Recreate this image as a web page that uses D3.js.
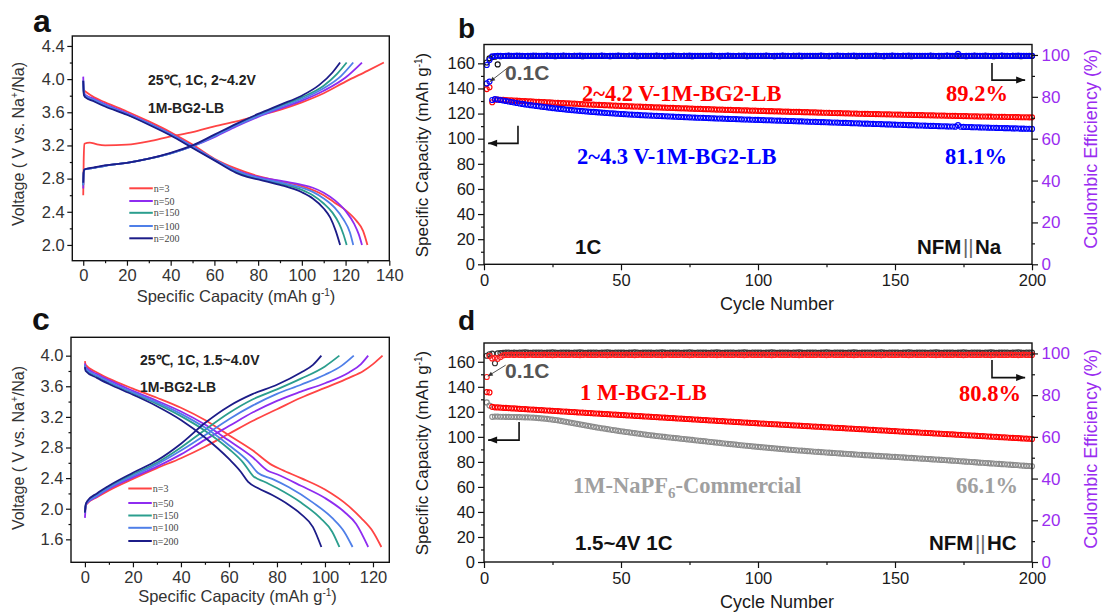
<!DOCTYPE html>
<html><head><meta charset="utf-8">
<script src="https://cdn.jsdelivr.net/npm/d3@7"></script>
<style>body{margin:0;background:#fff}svg{display:block;font-family:"Liberation Sans",Arial,sans-serif}</style>
</head><body><svg id="chart" width="1105" height="612"></svg>
<script>
// ---------------- DATA ----------------
const seriesNames = ["n=3","n=50","n=150","n=100","n=200"];
// Panel a: 2~4.2V, [capacity, voltage]
const aCharge_n3   = [[0,2.6],[0.2,3.0],[0.5,3.22],[3,3.235],[6,3.215],[10,3.2],[20,3.21],[30,3.25],[40,3.31],[50,3.36],[60,3.43],[70,3.49],[80,3.56],[90,3.63],[100,3.72],[110,3.83],[120,3.97],[130,4.1],[137.5,4.2]];
const aCharge_n50  = [[0,2.68],[0.2,2.86],[0.5,2.91],[5,2.93],[10,2.955],[20,2.99],[30,3.04],[40,3.105],[50,3.19],[60,3.3],[70,3.43],[80,3.545],[90,3.645],[100,3.74],[110,3.86],[120,4.02],[127.5,4.2]];
const aCharge_n150 = [[0,2.72],[0.2,2.87],[0.5,2.91],[5,2.93],[10,2.955],[20,2.99],[30,3.04],[40,3.105],[50,3.195],[60,3.32],[70,3.45],[80,3.565],[90,3.675],[100,3.78],[110,3.92],[116,4.06],[120.5,4.2]];
const aCharge_n100 = [[0,2.72],[0.2,2.87],[0.5,2.91],[5,2.93],[10,2.955],[20,2.99],[30,3.04],[40,3.105],[50,3.19],[60,3.31],[70,3.44],[80,3.555],[90,3.66],[100,3.76],[110,3.89],[118,4.04],[123.5,4.2]];
const aCharge_n200 = [[0,2.75],[0.2,2.88],[0.5,2.91],[5,2.935],[10,2.96],[20,2.99],[30,3.04],[40,3.11],[50,3.2],[60,3.33],[70,3.46],[80,3.58],[90,3.69],[100,3.8],[108,3.93],[114,4.08],[117.5,4.2]];
const aDischarge_n3   = [[0,3.87],[0.5,3.86],[5,3.78],[10,3.72],[20,3.61],[30,3.49],[40,3.36],[50,3.21],[60,3.04],[70,2.92],[80,2.83],[90,2.77],[100,2.71],[110,2.6],[115,2.51],[120,2.42],[125,2.29],[128,2.17],[130,2.0]];
const aDischarge_n50  = [[0,4.03],[0.3,3.84],[1,3.81],[5,3.76],[10,3.7],[20,3.59],[30,3.47],[40,3.34],[50,3.19],[60,3.03],[70,2.9],[80,2.82],[90,2.775],[100,2.725],[105,2.69],[110,2.63],[115,2.54],[120,2.41],[124,2.25],[126,2.13],[127.5,2.0]];
const aDischarge_n150 = [[0,3.98],[0.3,3.82],[1,3.79],[5,3.74],[10,3.68],[20,3.575],[30,3.46],[40,3.33],[50,3.18],[60,3.025],[70,2.885],[75,2.835],[80,2.8],[90,2.74],[100,2.665],[105,2.6],[110,2.5],[114,2.39],[117,2.26],[119,2.13],[120.5,2.0]];
const aDischarge_n100 = [[0,3.98],[0.3,3.83],[1,3.8],[5,3.75],[10,3.69],[20,3.58],[30,3.465],[40,3.335],[50,3.185],[60,3.03],[70,2.895],[80,2.81],[90,2.755],[100,2.69],[105,2.64],[110,2.56],[115,2.45],[119,2.31],[122,2.15],[123.5,2.0]];
const aDischarge_n200 = [[0,3.98],[0.3,3.81],[1,3.78],[5,3.73],[10,3.67],[20,3.57],[30,3.45],[40,3.32],[50,3.17],[60,3.02],[70,2.87],[75,2.82],[80,2.79],[90,2.725],[100,2.635],[105,2.56],[110,2.44],[113,2.33],[115.5,2.17],[117.5,2.0]];
// Panel c: 1.5~4.0V
const cCharge_n3   = [[0,1.95],[0.3,2.03],[1,2.07],[5,2.15],[10,2.24],[20,2.39],[30,2.53],[40,2.66],[50,2.81],[60,2.98],[70,3.15],[80,3.3],[90,3.45],[100,3.58],[110,3.71],[116,3.8],[120,3.89],[124,4.0]];
const cCharge_n50  = [[0,1.88],[0.5,2.06],[5,2.16],[10,2.26],[20,2.41],[30,2.55],[40,2.71],[50,2.9],[60,3.08],[70,3.26],[80,3.41],[90,3.53],[100,3.64],[110,3.78],[115,3.89],[118,4.0]];
const cCharge_n150 = [[0,1.95],[0.5,2.07],[5,2.18],[10,2.28],[20,2.45],[30,2.6],[40,2.8],[50,3.03],[60,3.25],[70,3.43],[80,3.56],[90,3.7],[100,3.86],[106,4.0]];
const cCharge_n100 = [[0,1.95],[0.5,2.07],[5,2.17],[10,2.27],[20,2.43],[30,2.58],[40,2.76],[50,2.96],[60,3.17],[70,3.35],[80,3.5],[90,3.62],[100,3.75],[107,3.87],[112,4.0]];
const cCharge_n200 = [[0,1.95],[0.3,2.05],[1,2.1],[5,2.2],[10,2.3],[20,2.47],[30,2.63],[40,2.85],[50,3.12],[60,3.34],[70,3.5],[80,3.62],[90,3.78],[95,3.88],[98.5,4.0]];
const cDischarge_n3   = [[0,3.93],[0.3,3.88],[5,3.78],[10,3.7],[20,3.57],[30,3.45],[40,3.32],[50,3.16],[60,2.96],[70,2.76],[78,2.57],[82,2.51],[90,2.4],[100,2.25],[110,2.03],[115,1.88],[120,1.7],[123.5,1.5]];
const cDischarge_n50  = [[0,3.9],[0.3,3.85],[5,3.76],[10,3.68],[20,3.54],[30,3.41],[40,3.27],[50,3.1],[60,2.89],[70,2.67],[76,2.5],[80,2.45],[90,2.3],[100,2.14],[108,1.96],[113,1.8],[118,1.5]];
const cDischarge_n150 = [[0,3.87],[0.3,3.82],[5,3.73],[10,3.65],[20,3.51],[30,3.37],[40,3.21],[50,3.02],[60,2.78],[66,2.6],[70,2.43],[75,2.35],[80,2.27],[90,2.08],[98,1.88],[103,1.7],[106,1.5]];
const cDischarge_n100 = [[0,3.88],[0.3,3.83],[5,3.74],[10,3.66],[20,3.52],[30,3.39],[40,3.24],[50,3.06],[60,2.83],[68,2.62],[72,2.47],[78,2.39],[85,2.28],[95,2.08],[103,1.88],[108,1.7],[111.5,1.5]];
const cDischarge_n200 = [[0,3.85],[0.3,3.8],[5,3.71],[10,3.63],[20,3.49],[30,3.34],[40,3.16],[50,2.93],[60,2.65],[65,2.48],[68,2.35],[72,2.27],[78,2.18],[85,2.05],[90,1.93],[95,1.76],[98.5,1.5]];

// Panels b and d: cycle 1..200
const capB_42V = [
139.5,141.0,129.0,131.2,131.1,131.0,130.9,130.7,130.6,130.5,
130.4,130.3,130.1,130.0,129.9,129.8,129.7,129.5,129.4,129.3,
129.2,129.1,129.0,128.9,128.7,128.6,128.5,128.4,128.3,128.2,
128.1,128.0,127.9,127.8,127.6,127.5,127.4,127.3,127.2,127.1,
127.0,126.9,126.8,126.7,126.6,126.5,126.4,126.3,126.2,126.1,
126.0,125.9,125.8,125.7,125.6,125.6,125.5,125.4,125.3,125.2,
125.1,125.0,125.0,124.9,124.8,124.7,124.6,124.6,124.5,124.4,
124.3,124.2,124.2,124.1,124.0,123.9,123.8,123.8,123.7,123.6,
123.5,123.5,123.4,123.3,123.2,123.2,123.1,123.0,123.0,122.9,
122.8,122.7,122.7,122.6,122.5,122.5,122.4,122.3,122.3,122.2,
122.1,122.1,122.0,121.9,121.9,121.8,121.8,121.7,121.6,121.6,
121.5,121.4,121.4,121.3,121.3,121.2,121.1,121.1,121.0,121.0,
120.9,120.8,120.8,120.7,120.7,120.6,120.5,120.5,120.4,120.4,
120.3,120.2,120.2,120.1,120.1,120.0,119.9,119.9,119.8,119.8,
119.7,119.7,119.6,119.6,119.5,119.5,119.4,119.4,119.3,119.3,
119.2,119.2,119.1,119.1,119.0,119.0,118.9,118.9,118.8,118.8,
118.7,118.7,118.6,118.6,118.5,118.5,118.4,118.4,118.3,118.3,
118.2,118.2,118.1,118.1,118.0,118.0,117.9,117.9,117.8,117.8,
117.7,117.7,117.7,117.6,117.6,117.5,117.5,117.5,117.4,117.4,
117.3,117.3,117.3,117.2,117.2,117.1,117.1,117.1,117.0,117.0];
const capB_43V = [
144.0,145.5,130.8,131.5,131.2,130.8,130.4,130.0,129.6,129.2,
128.8,128.4,128.0,127.7,127.3,127.0,126.7,126.4,126.1,125.8,
125.5,125.2,125.0,124.7,124.4,124.2,123.9,123.7,123.5,123.2,
123.0,122.8,122.6,122.4,122.2,122.0,121.8,121.6,121.4,121.3,
121.1,120.9,120.8,120.6,120.5,120.3,120.2,120.0,119.9,119.7,
119.6,119.5,119.3,119.2,119.1,119.0,118.8,118.7,118.6,118.5,
118.4,118.3,118.2,118.1,118.0,117.9,117.8,117.7,117.6,117.5,
117.4,117.3,117.2,117.1,117.0,116.9,116.8,116.7,116.7,116.6,
116.5,116.4,116.3,116.2,116.1,116.1,116.0,115.9,115.8,115.7,
115.7,115.6,115.5,115.4,115.3,115.3,115.2,115.1,115.0,115.0,
114.9,114.8,114.7,114.7,114.6,114.5,114.4,114.4,114.3,114.2,
114.1,114.1,114.0,113.9,113.8,113.8,113.7,113.6,113.5,113.5,
113.4,113.3,113.2,113.2,113.1,113.0,112.9,112.9,112.8,112.7,
112.6,112.6,112.5,112.4,112.3,112.3,112.2,112.1,112.0,112.0,
111.9,111.8,111.7,111.7,111.6,111.5,111.4,111.4,111.3,111.2,
111.1,111.1,111.0,110.9,110.8,110.8,110.7,110.6,110.5,110.5,
110.4,110.3,110.2,110.2,110.1,110.0,109.9,109.9,109.8,109.7,
109.7,109.6,110.8,109.5,109.4,109.3,109.3,109.2,109.1,109.1,
109.0,108.9,108.9,108.8,108.7,108.7,108.6,108.5,108.5,108.4,
108.4,108.3,108.2,108.2,108.1,108.0,108.0,107.9,107.9,107.8];
const ceB_43V = [
95.2,97.6,99.3,99.5,99.6,99.6,99.5,99.6,99.7,99.6,
99.6,99.7,99.6,99.6,99.5,99.6,99.6,99.7,99.6,99.6,
99.6,99.6,99.7,99.6,99.5,99.6,99.6,99.6,99.7,99.6,
99.6,99.5,99.6,99.6,99.7,99.6,99.6,99.6,99.5,99.6,
99.6,99.6,99.7,99.6,99.5,99.6,99.6,99.6,99.7,99.6,
99.6,99.5,99.6,99.6,99.7,99.6,99.6,99.6,99.5,99.6,
99.6,99.6,99.7,99.6,99.5,99.6,99.6,99.6,99.7,99.6,
99.6,99.5,99.6,99.6,99.7,99.6,99.6,99.6,99.5,99.6,
99.6,99.6,99.7,99.6,99.5,99.6,99.6,99.6,99.7,99.6,
99.6,99.5,99.6,99.6,99.7,99.6,99.6,99.6,99.5,99.6,
99.6,99.6,99.7,99.6,99.5,99.6,99.6,99.6,99.7,99.6,
99.6,99.5,99.6,99.6,99.7,99.6,99.6,99.6,99.5,99.6,
99.6,99.6,99.7,99.6,99.5,99.6,99.6,99.6,99.7,99.6,
99.6,99.5,99.6,99.6,99.7,99.6,99.6,99.6,99.5,99.6,
99.6,99.6,99.7,99.6,99.5,99.6,99.6,99.6,99.7,99.6,
99.6,99.5,99.6,99.6,99.7,99.6,99.6,99.6,99.5,99.6,
99.6,99.6,99.7,99.6,99.5,99.6,99.6,99.6,99.7,99.6,
99.6,99.6,100.5,99.6,99.5,99.6,99.6,99.6,99.7,99.6,
99.6,99.6,99.7,99.6,99.5,99.6,99.6,99.6,99.7,99.6,
99.6,99.5,99.6,99.6,99.7,99.6,99.6,99.6,99.5,99.6];
const ceB_42V = [
96.4,98.4,99.0,99.2,95.5,99.4,99.5,99.5,99.6,99.5,
99.5,99.5,99.6,99.5,99.5,99.4,99.5,99.5,99.6,99.5,
99.5,99.5,99.6,99.5,99.5,99.4,99.5,99.5,99.6,99.5,
99.5,99.5,99.6,99.5,99.5,99.4,99.5,99.5,99.6,99.5,
99.5,99.5,99.6,99.5,99.5,99.4,99.5,99.5,99.6,99.5,
99.5,99.5,99.6,99.5,99.5,99.4,99.5,99.5,99.6,99.5,
99.5,99.5,99.6,99.5,99.5,99.4,99.5,99.5,99.6,99.5,
99.5,99.5,99.6,99.5,99.5,99.4,99.5,99.5,99.6,99.5,
99.5,99.5,99.6,99.5,99.5,99.4,99.5,99.5,99.6,99.5,
99.5,99.5,99.6,99.5,99.5,99.4,99.5,99.5,99.6,99.5,
99.5,99.5,99.6,99.5,99.5,99.4,99.5,99.5,99.6,99.5,
99.5,99.5,99.6,99.5,99.5,99.4,99.5,99.5,99.6,99.5,
99.5,99.5,99.6,99.5,99.5,99.4,99.5,99.5,99.6,99.5,
99.5,99.5,99.6,99.5,99.5,99.4,99.5,99.5,99.6,99.5,
99.5,99.5,99.6,99.5,99.5,99.4,99.5,99.5,99.6,99.5,
99.5,99.5,99.6,99.5,99.5,99.4,99.5,99.5,99.6,99.5,
99.5,99.5,99.6,99.5,99.5,99.4,99.5,99.5,99.6,99.5,
99.5,99.5,99.6,99.5,99.5,99.4,99.5,99.5,99.6,99.5,
99.5,99.5,99.6,99.5,99.5,99.4,99.5,99.5,99.6,99.5,
99.5,99.5,99.6,99.5,99.5,99.4,99.5,99.5,99.6,99.5];
const capD_BG2 = [
135.8,135.5,124.0,123.6,123.5,123.4,123.2,123.1,123.0,122.8,
122.7,122.6,122.4,122.3,122.2,122.0,121.9,121.8,121.6,121.5,
121.4,121.2,121.1,121.0,120.8,120.7,120.6,120.4,120.3,120.2,
120.0,119.9,119.8,119.6,119.5,119.4,119.2,119.1,119.0,118.8,
118.7,118.6,118.4,118.3,118.2,118.0,117.9,117.8,117.6,117.5,
117.4,117.2,117.1,117.0,116.8,116.7,116.6,116.4,116.3,116.2,
116.0,115.9,115.8,115.6,115.5,115.4,115.2,115.1,115.0,114.8,
114.7,114.6,114.4,114.3,114.2,114.0,113.9,113.8,113.6,113.5,
113.4,113.2,113.1,113.0,112.8,112.7,112.6,112.4,112.3,112.2,
112.0,111.9,111.8,111.6,111.5,111.4,111.2,111.1,111.0,110.8,
110.7,110.6,110.5,110.3,110.2,110.1,110.0,109.8,109.7,109.6,
109.5,109.3,109.2,109.1,109.0,108.8,108.7,108.6,108.5,108.3,
108.2,108.1,108.0,107.8,107.7,107.6,107.5,107.3,107.2,107.1,
107.0,106.8,106.7,106.6,106.5,106.3,106.2,106.1,106.0,105.8,
105.7,105.6,105.5,105.3,105.2,105.1,105.0,104.8,104.7,104.6,
104.5,104.3,104.2,104.1,104.0,103.8,103.7,103.6,103.5,103.3,
103.2,103.1,103.0,102.8,102.7,102.6,102.5,102.3,102.2,102.1,
102.0,101.8,101.7,101.6,101.5,101.3,101.2,101.1,101.0,100.8,
100.7,100.6,100.5,100.3,100.2,100.1,100.0,99.8,99.7,99.6,
99.5,99.3,99.2,99.1,99.0,98.8,98.7,98.6,98.5,98.3];
const capD_NaPF6 = [
127.5,125.0,116.0,116.2,116.2,116.1,116.1,116.0,116.0,115.9,
115.9,115.8,115.8,115.7,115.6,115.6,115.5,115.4,115.2,115.0,
114.8,114.6,114.4,114.1,113.8,113.5,113.2,112.8,112.4,112.0,
111.6,111.2,110.8,110.4,110.0,109.6,109.2,108.8,108.4,108.0,
107.6,107.3,106.9,106.6,106.2,105.9,105.5,105.2,104.8,104.5,
104.2,103.9,103.6,103.3,103.0,102.7,102.4,102.1,101.8,101.5,
101.2,101.0,100.7,100.5,100.2,100.0,99.7,99.5,99.2,99.0,
98.8,98.5,98.3,98.0,97.8,97.6,97.3,97.1,96.8,96.6,
96.4,96.1,95.9,95.6,95.4,95.2,94.9,94.7,94.4,94.2,
94.0,93.8,93.5,93.3,93.1,92.9,92.7,92.4,92.2,92.0,
91.8,91.6,91.4,91.2,91.0,90.8,90.6,90.4,90.2,90.0,
89.8,89.7,89.5,89.3,89.1,89.0,88.8,88.6,88.5,88.3,
88.1,88.0,87.8,87.7,87.5,87.4,87.2,87.1,86.9,86.8,
86.6,86.5,86.3,86.2,86.0,85.9,85.7,85.6,85.4,85.3,
85.2,85.0,84.9,84.8,84.6,84.5,84.4,84.2,84.1,84.0,
83.9,83.7,83.6,83.4,83.3,83.2,83.0,82.9,82.7,82.6,
82.5,82.3,82.2,82.0,81.9,81.8,81.6,81.5,81.3,81.2,
81.0,80.9,80.7,80.5,80.4,80.2,80.1,79.9,79.8,79.6,
79.4,79.3,79.1,79.0,78.8,78.7,78.5,78.4,78.2,78.1,
77.9,77.8,77.6,77.5,77.3,77.1,77.0,76.8,76.7,76.5];
const ceD_NaPF6 = [
98.9,99.6,99.9,95.3,100.0,100.2,100.3,100.4,100.4,100.3,
100.4,100.3,100.4,100.4,100.5,100.4,100.3,100.4,100.4,100.4,
100.4,100.3,100.4,100.4,100.5,100.4,100.3,100.4,100.4,100.4,
100.4,100.3,100.4,100.4,100.5,100.4,100.3,100.4,100.4,100.4,
100.4,100.3,100.4,100.4,100.5,100.4,100.3,100.4,100.4,100.4,
100.4,100.3,100.4,100.4,100.5,100.4,100.3,100.4,100.4,100.4,
100.4,100.3,100.4,100.4,100.5,100.4,100.3,100.4,100.4,100.4,
100.4,100.3,100.4,100.4,100.5,100.4,100.3,100.4,100.4,100.4,
100.4,100.3,100.4,100.4,100.5,100.4,100.3,100.4,100.4,100.4,
100.4,100.3,100.4,100.4,100.5,100.4,100.3,100.4,100.4,100.4,
100.4,100.3,100.4,100.4,100.5,100.4,100.3,100.4,100.4,100.4,
100.4,100.3,100.4,100.4,100.5,100.4,100.3,100.4,100.4,100.4,
100.4,100.3,100.4,100.4,100.5,100.4,100.3,100.4,100.4,100.4,
100.4,100.3,100.4,100.4,100.5,100.4,100.3,100.4,100.4,100.4,
100.4,100.3,100.4,100.4,100.5,100.4,100.3,100.4,100.4,100.4,
100.4,100.3,100.4,100.4,100.5,100.4,100.3,100.4,100.4,100.4,
100.4,100.3,100.4,100.4,100.5,100.4,100.3,100.4,100.4,100.4,
100.4,100.3,100.4,100.4,100.5,100.4,100.3,100.4,100.4,100.4,
100.4,100.3,100.4,100.4,100.5,100.4,100.3,100.4,100.4,100.4,
100.4,100.3,100.4,100.4,100.5,100.4,100.3,100.4,100.4,100.4];
const ceD_BG2 = [
88.7,98.8,97.6,97.9,97.4,98.3,99.1,99.3,99.3,99.4,
99.3,99.4,99.3,99.3,99.2,99.3,99.4,99.3,99.3,99.3,
99.3,99.4,99.3,99.3,99.2,99.3,99.4,99.3,99.3,99.3,
99.3,99.4,99.3,99.3,99.2,99.3,99.4,99.3,99.3,99.3,
99.3,99.4,99.3,99.3,99.2,99.3,99.4,99.3,99.3,99.3,
99.3,99.4,99.3,99.3,99.2,99.3,99.4,99.3,99.3,99.3,
99.3,99.4,99.3,99.3,99.2,99.3,99.4,99.3,99.3,99.3,
99.3,99.4,99.3,99.3,99.2,99.3,99.4,99.3,99.3,99.3,
99.3,99.4,99.3,99.3,99.2,99.3,99.4,99.3,99.3,99.3,
99.3,99.4,99.3,99.3,99.2,99.3,99.4,99.3,99.3,99.3,
99.3,99.4,99.3,99.3,99.2,99.3,99.4,99.3,99.3,99.3,
99.3,99.4,99.3,99.3,99.2,99.3,99.4,99.3,99.3,99.3,
99.3,99.4,99.3,99.3,99.2,99.3,99.4,99.3,99.3,99.3,
99.3,99.4,99.3,99.3,99.2,99.3,99.4,99.3,99.3,99.3,
99.3,99.4,99.3,99.3,99.2,99.3,99.4,99.3,99.3,99.3,
99.3,99.4,99.3,99.3,99.2,99.3,99.4,99.3,99.3,99.3,
99.3,99.4,99.3,99.3,99.2,99.3,99.4,99.3,99.3,99.3,
99.3,99.4,99.3,99.3,99.2,99.3,99.4,99.3,99.3,99.3,
99.3,99.4,99.3,99.3,99.2,99.3,99.4,99.3,99.3,99.3,
99.3,99.4,99.3,99.3,99.2,99.3,99.4,99.3,99.3,99.3];

// tick labels
const aYTicks = [2.0,2.4,2.8,3.2,3.6,4.0,4.4];
const aXTicks = [0,20,40,60,80,100,120,140];
const cYTicks = [1.6,2.0,2.4,2.8,3.2,3.6,4.0];
const cXTicks = [0,20,40,60,80,100,120];
const capTicks = [0,20,40,60,80,100,120,140,160];
const ceTicks = [0,20,40,60,80,100];
const cycleTicks = [0,50,100,150,200];

// ---------------- DRAWING ----------------
const svg = d3.select("#chart");
const SANS = "Liberation Sans, Arial, sans-serif";
const SERIF = "Liberation Serif, Times New Roman, serif";
const colors = {"n=3":"#ff4444","n=50":"#8e2cf0","n=150":"#2b9e8e","n=100":"#4f7fe8","n=200":"#1c1c88"};

function styleAxis(g, fs, col) {
  g.attr("font-family", SANS);
  g.select(".domain").remove();
  g.selectAll("line").attr("stroke", "#111").attr("stroke-width", 1.2);
  g.selectAll("text").attr("font-size", fs).attr("fill", col);
}
function frame(x, y) {
  const [x0, x1] = x.range(), [y1, y0] = y.range();
  svg.append("rect").attr("x", x0).attr("y", y0).attr("width", x1 - x0).attr("height", y1 - y0)
    .attr("fill", "none").attr("stroke", "#111").attr("stroke-width", 1.4);
}
function minorVals(major) {
  const out = [];
  for (let i = 0; i < major.length - 1; i++) out.push((major[i] + major[i + 1]) / 2);
  return out;
}
function leftAxis(x, y, ticks, fmt, size, pad, fs, col) {
  const x0 = x.range()[0];
  styleAxis(svg.append("g").attr("transform", `translate(${x0},0)`)
    .call(d3.axisLeft(y).tickValues(ticks).tickFormat(fmt).tickSize(size).tickPadding(pad)), fs, col);
  styleAxis(svg.append("g").attr("transform", `translate(${x0},0)`)
    .call(d3.axisLeft(y).tickValues(minorVals(ticks)).tickFormat("").tickSize(size / 2)), fs, col);
}
function rightAxis(x, y, ticks, size, pad, fs, col) {
  const x1 = x.range()[1];
  styleAxis(svg.append("g").attr("transform", `translate(${x1},0)`)
    .call(d3.axisRight(y).tickValues(ticks).tickFormat(d3.format("d")).tickSize(size).tickPadding(pad)), fs, col);
  styleAxis(svg.append("g").attr("transform", `translate(${x1},0)`)
    .call(d3.axisRight(y).tickValues(minorVals(ticks)).tickFormat("").tickSize(size / 2)), fs, col);
}
function bottomAxis(x, y, ticks, size, pad, fs, col) {
  const y0 = y.range()[0];
  styleAxis(svg.append("g").attr("transform", `translate(0,${y0})`)
    .call(d3.axisBottom(x).tickValues(ticks).tickFormat(d3.format("d")).tickSize(size).tickPadding(pad)), fs, col);
  styleAxis(svg.append("g").attr("transform", `translate(0,${y0})`)
    .call(d3.axisBottom(x).tickValues(minorVals(ticks)).tickFormat("").tickSize(size / 2)), fs, col);
}
function text(x, y, str, o = {}) {
  return svg.append("text").attr("x", x).attr("y", y).text(str)
    .attr("font-family", o.family || SANS).attr("font-size", o.size || 16)
    .attr("font-weight", o.weight || "normal").attr("fill", o.fill || "#111")
    .attr("text-anchor", o.anchor || "start");
}
function vlabel(x, y, parts, size, fill) {
  const t = svg.append("text").attr("transform", `translate(${x},${y}) rotate(-90)`)
    .attr("text-anchor", "middle").attr("font-family", SANS).attr("font-size", size).attr("fill", fill);
  parts.forEach(p => { const s = t.append("tspan").text(p.t); if (p.dy) s.attr("dy", p.dy); if (p.fs) s.attr("font-size", p.fs); });
  return t;
}
function hlabel(x, y, parts, size, fill) {
  const t = svg.append("text").attr("x", x).attr("y", y)
    .attr("text-anchor", "middle").attr("font-family", SANS).attr("font-size", size).attr("fill", fill);
  parts.forEach(p => { const s = t.append("tspan").text(p.t); if (p.dy) s.attr("dy", p.dy); if (p.fs) s.attr("font-size", p.fs); });
  return t;
}
const capLabelParts = [{t:"Specific Capacity (mAh g"},{t:"-1",dy:-6,fs:10},{t:")",dy:6}];
const voltLabelParts = [{t:"Voltage ( V vs. Na"},{t:"+",dy:-6,fs:10},{t:"/Na)",dy:6}];

// ---- voltage-profile panels (a, c) ----
function profilePanel(x, y, yTicks, xTicks, charges, discharges, legendYs, legX) {
  const line = d3.line().x(d => x(d[0])).y(d => y(d[1])).curve(d3.curveMonotoneX);
  seriesNames.forEach((n, i) => {
    [charges[i], discharges[i]].forEach(arr => {
      svg.append("path").datum(arr).attr("d", line).attr("fill", "none")
        .attr("stroke", colors[n]).attr("stroke-width", 1.8).attr("stroke-linejoin", "round");
    });
  });
  frame(x, y);
  leftAxis(x, y, yTicks, d3.format(".1f"), 5, 2.5, 16.5, "#333");
  bottomAxis(x, y, xTicks, 5, 4, 16.5, "#333");
  seriesNames.forEach((n, i) => {
    svg.append("line").attr("x1", legX).attr("x2", legX + 23.5).attr("y1", legendYs[i]).attr("y2", legendYs[i])
      .attr("stroke", colors[n]).attr("stroke-width", 2);
    text(legX + 24.5, legendYs[i] + 3.5, n, {family: SERIF, size: 10, fill: "#444"});
  });
}

// Panel a
const xA = d3.scaleLinear([-5, 140], [72.3, 389.3]);
const yA = d3.scaleLinear([1.81, 4.52], [260.7, 36]);
profilePanel(xA, yA, aYTicks, aXTicks,
  [aCharge_n3, aCharge_n50, aCharge_n150, aCharge_n100, aCharge_n200],
  [aDischarge_n3, aDischarge_n50, aDischarge_n150, aDischarge_n100, aDischarge_n200],
  [188.3, 201, 212.8, 226, 238.3], 129.3);
text(33, 32, "a", {size: 32, weight: "bold"});
text(148, 85, "25℃, 1C, 2~4.2V", {size: 14, weight: "bold", fill: "#222"});
text(148, 113, "1M-BG2-LB", {size: 14, weight: "bold", fill: "#222"});
vlabel(24, 144, voltLabelParts, 16, "#333");
hlabel(236, 302, capLabelParts, 16.5, "#333");

// Panel c
const xC = d3.scaleLinear([-5.8, 126.8], [71, 389.3]);
const yC = d3.scaleLinear([1.3, 4.24], [562.3, 337.3]);
profilePanel(xC, yC, cYTicks, cXTicks,
  [cCharge_n3, cCharge_n50, cCharge_n150, cCharge_n100, cCharge_n200],
  [cDischarge_n3, cDischarge_n50, cDischarge_n150, cDischarge_n100, cDischarge_n200],
  [488.5, 503, 515.5, 527.8, 541], 128.3);
text(32, 330, "c", {size: 32, weight: "bold"});
text(140, 365, "25℃, 1C, 1.5~4.0V", {size: 14, weight: "bold", fill: "#222"});
text(140, 392, "1M-BG2-LB", {size: 14, weight: "bold", fill: "#222"});
vlabel(24, 448, voltLabelParts, 16, "#333");
hlabel(237.5, 602, capLabelParts, 16.5, "#333");

// ---- cycling panels (b, d) ----
const cycles = d3.range(1, 201);
function markers(x, y, vals, color, r) {
  svg.append("g").selectAll("circle").data(vals).join("circle")
    .attr("cx", (d, i) => x(cycles[i])).attr("cy", d => y(d)).attr("r", r || 2.5)
    .attr("fill", "none").attr("stroke", color).attr("stroke-width", 1.15);
}
function arrowPath(points, dir) {
  const p = d3.path();
  p.moveTo(points[0][0], points[0][1]);
  points.slice(1).forEach(q => p.lineTo(q[0], q[1]));
  svg.append("path").attr("d", p.toString()).attr("fill", "none").attr("stroke", "#111").attr("stroke-width", 1.6);
  const [tx, ty] = points[points.length - 1];
  const s = dir === "left" ? 1 : -1;
  svg.append("path").attr("d", `M${tx},${ty}L${tx + s * 9},${ty - 3.5}L${tx + s * 9},${ty + 3.5}Z`).attr("fill", "#111");
}
function leader(x1, y1, x2, y2) {
  svg.append("line").attr("x1", x1).attr("y1", y1).attr("x2", x2).attr("y2", y2).attr("stroke", "#555").attr("stroke-width", 1);
  const ang = Math.atan2(y2 - y1, x2 - x1);
  const L = 5, w = 2.2;
  const bx = x2 - L * Math.cos(ang), by = y2 - L * Math.sin(ang);
  svg.append("path").attr("d", `M${x2},${y2}L${bx - w * Math.sin(ang)},${by + w * Math.cos(ang)}L${bx + w * Math.sin(ang)},${by - w * Math.cos(ang)}Z`).attr("fill", "#333");
}
function cyclingAxes(x, y, yr) {
  frame(x, y);
  leftAxis(x, y, capTicks, d3.format("d"), 6, 3, 16.5, "#1a1a1a");
  rightAxis(x, yr, ceTicks, 6, 3.5, 17, "#9a2cf0");
  bottomAxis(x, y, cycleTicks, 6, 4, 16.5, "#1a1a1a");
}

// Panel b
const xB = d3.scaleLinear([0, 200], [484, 1032]);
const yB = d3.scaleLinear([0, 175], [264.3, 44.5]);
const yBr = d3.scaleLinear([0, 105], [264.3, 44.5]);
markers(xB, yBr, ceB_42V, "#111");
markers(xB, yBr, ceB_43V, "#0000ff");
markers(xB, yB, capB_42V, "#ff0000");
markers(xB, yB, capB_43V, "#0000ff");
cyclingAxes(xB, yB, yBr);
text(458, 38, "b", {size: 28, weight: "bold"});
text(505, 80, "0.1C", {size: 21, weight: "bold", fill: "#555"});
leader(xB(8.4), yB(156), xB(2.2), yB(145.5));
text(582, 101, "2~4.2 V-1M-BG2-LB", {family: SERIF, size: 22.5, weight: "bold", fill: "#ff0000"});
text(946, 101, "89.2%", {family: SERIF, size: 22.5, weight: "bold", fill: "#ff0000"});
text(577, 164, "2~4.3 V-1M-BG2-LB", {family: SERIF, size: 22.5, weight: "bold", fill: "#0000ff"});
text(945, 164, "81.1%", {family: SERIF, size: 22.5, weight: "bold", fill: "#0000ff"});
text(575, 254, "1C", {size: 20.5, weight: "bold"});
{
  const t = text(917, 254, "NFM", {size: 20.5, weight: "bold"});
  t.append("tspan").text("||").attr("font-weight", "normal").attr("fill", "#666").attr("dx", 1.5);
  t.append("tspan").text("Na").attr("dx", 1.5);
}
arrowPath([[xB(12.4), yB(110.3)], [xB(12.4), yB(96.3)], [xB(1.5), yB(96.3)]], "left");
arrowPath([[xB(185.4), yBr(96.2)], [xB(185.4), yBr(88.0)], [xB(197.5), yBr(88.0)]], "right");
vlabel(428, 155, capLabelParts, 17, "#1a1a1a");
vlabel(1097, 149, [{t:"Coulombic Efficiency (%)"}], 18, "#9a2cf0");
hlabel(777, 310, [{t:"Cycle Number"}], 18, "#1a1a1a");

// Panel d
const xD = d3.scaleLinear([0, 200], [484, 1032]);
const yD = d3.scaleLinear([0, 175], [562, 343]);
const yDr = d3.scaleLinear([0, 105], [562, 343]);
markers(xD, yDr, ceD_NaPF6, "#333");
markers(xD, yDr, ceD_BG2, "#ff2020");
markers(xD, yD, capD_NaPF6, "#8c8c8c");
markers(xD, yD, capD_BG2, "#ff0000");
cyclingAxes(xD, yD, yDr);
text(458, 330, "d", {size: 28, weight: "bold"});
text(505, 378, "0.1C", {size: 21, weight: "bold", fill: "#555"});
leader(xD(7.9), yD(157.3), xD(1.4), yD(148.5));
text(580, 400, "1 M-BG2-LB", {family: SERIF, size: 22.5, weight: "bold", fill: "#ff0000"});
text(959, 401, "80.8%", {family: SERIF, size: 22.5, weight: "bold", fill: "#ff0000"});
{
  const t = text(573, 493, "1M-NaPF", {family: SERIF, size: 22.5, weight: "bold", fill: "#a0a0a0"});
  t.append("tspan").text("6").attr("font-size", 15).attr("dy", 5);
  t.append("tspan").text("-Commercial").attr("dy", -5);
}
text(956, 493, "66.1%", {family: SERIF, size: 22.5, weight: "bold", fill: "#a0a0a0"});
text(575, 550, "1.5~4V 1C", {size: 20.5, weight: "bold"});
{
  const t = text(929, 550, "NFM", {size: 20.5, weight: "bold"});
  t.append("tspan").text("||").attr("font-weight", "normal").attr("fill", "#666").attr("dx", 1.5);
  t.append("tspan").text("HC").attr("dx", 1.5);
}
arrowPath([[xD(12.8), yD(111.8)], [xD(12.8), yD(97.4)], [xD(1.5), yD(97.4)]], "left");
arrowPath([[xD(185.4), yDr(96.9)], [xD(185.4), yDr(88.4)], [xD(197.5), yDr(88.4)]], "right");
vlabel(428, 453, capLabelParts, 17, "#1a1a1a");
vlabel(1097, 449, [{t:"Coulombic Efficiency (%)"}], 18, "#9a2cf0");
hlabel(777, 608, [{t:"Cycle Number"}], 18, "#1a1a1a");
</script></body></html>
